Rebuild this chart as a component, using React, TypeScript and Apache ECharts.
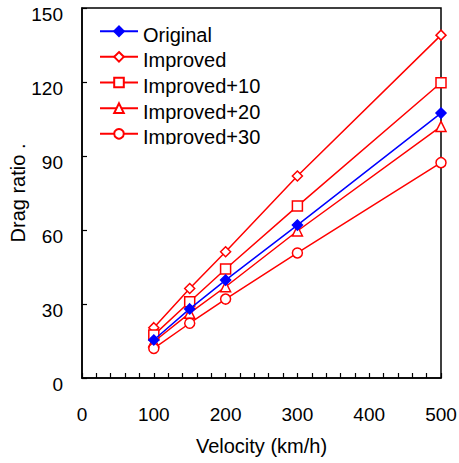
import React, { useEffect, useRef } from "react";
import * as echarts from "echarts";

const velocities = [100, 150, 200, 300, 500];
const original = [15.4, 28, 39.7, 62, 107.4];
const improved = [20.4, 36.3, 51.2, 81.9, 139];
const improved10 = [17.4, 30.9, 44.2, 69.7, 119.7];
const improved20 = [14.7, 26.3, 37, 59.6, 102];
const improved30 = [12, 22.2, 32, 50.7, 87.3];

const xTicks = [0, 100, 200, 300, 400, 500];
const yTicks = [0, 30, 60, 90, 120, 150];

const FONT = "Liberation Sans, Arial, sans-serif";

export default function App() {
  const ref = useRef<HTMLDivElement>(null);
  useEffect(() => {
    if (!ref.current) return;
    const chart = echarts.init(ref.current, undefined, { renderer: "svg" });
    const mk = (name: string, data: number[], color: string, symbol: string, size: number, filled: boolean) => ({
      name,
      type: "line",
      data: velocities.map((v, i) => [v, data[i]]),
      symbol,
      symbolSize: size,
      showSymbol: true,
      lineStyle: { color, width: 1.5 },
      itemStyle: { color: filled ? color : "#fff", borderColor: color, borderWidth: 1.5 },
      z: filled ? 5 : 3,
    });
    chart.setOption({
      animation: false,
      textStyle: { fontFamily: FONT },
      grid: {
        left: 82, right: 18, top: 8, bottom: 85,
        outerBoundsMode: "none",
        containLabel: false,
        show: true, borderColor: "#000", borderWidth: 1.5, backgroundColor: "transparent",
      },
      legend: {
        orient: "vertical",
        left: 99,
        top: 17.7,
        padding: 0,
        itemWidth: 38,
        itemHeight: 12,
        itemGap: -1.35,
        formatter: "{a|{name}}",
        textStyle: {
          fontSize: 20, fontFamily: FONT, color: "#000", lineHeight: 20,
          rich: { a: { fontSize: 20, fontFamily: FONT, color: "#000", lineHeight: 20, padding: [7, 0, 0, 0] } },
        },
        data: ["Original", "Improved", "Improved+10", "Improved+20", "Improved+30"],
      },
      xAxis: {
        type: "value",
        min: xTicks[0],
        max: xTicks[xTicks.length - 1],
        interval: 100,
        name: "Velocity (km/h)",
        nameLocation: "middle",
        nameGap: 58,
        nameTextStyle: { fontSize: 20, color: "#000", fontFamily: FONT },
        axisLine: { lineStyle: { color: "#000", width: 1.5 } },
        axisTick: { inside: true, length: 5, lineStyle: { color: "#000", width: 1.2 } },
        minorTick: { show: true, splitNumber: 5, length: 5, lineStyle: { color: "#000", width: 1.2 } },
        axisLabel: { fontSize: 19, color: "#000", margin: 27, fontFamily: FONT },
        splitLine: { show: false },
      },
      yAxis: {
        type: "value",
        min: yTicks[0],
        max: yTicks[yTicks.length - 1],
        interval: 30,
        name: "Drag ratio .",
        nameLocation: "middle",
        nameGap: 54,
        nameMoveOverlap: false,
        nameRotate: 90,
        nameTextStyle: { fontSize: 20, color: "#000", fontFamily: FONT },
        axisLine: { lineStyle: { color: "#000", width: 1.5 } },
        axisTick: { inside: true, length: 5, lineStyle: { color: "#000", width: 1.2 } },
        axisLabel: { fontSize: 19, color: "#000", margin: 19, fontFamily: FONT, verticalAlign: "top", lineHeight: 12 },
        splitLine: { show: false },
      },
      series: [
        mk("Original", original, "#0000ff", "diamond", 10, true),
        mk("Improved", improved, "#ff0000", "diamond", 10, false),
        mk("Improved+10", improved10, "#ff0000", "rect", 10, false),
        mk("Improved+20", improved20, "#ff0000", "triangle", 10, false),
        mk("Improved+30", improved30, "#ff0000", "circle", 10, false),
      ],
      graphic: [
        { type: "rect", left: 140, top: 144.5, shape: { width: 140, height: 14 }, style: { fill: "#fff" }, z: 100 },
      ],
    });
    return () => chart.dispose();
  }, []);
  return <div ref={ref} style={{ width: 459, height: 463, position: "absolute", left: 0, top: 0 }} />;
}
